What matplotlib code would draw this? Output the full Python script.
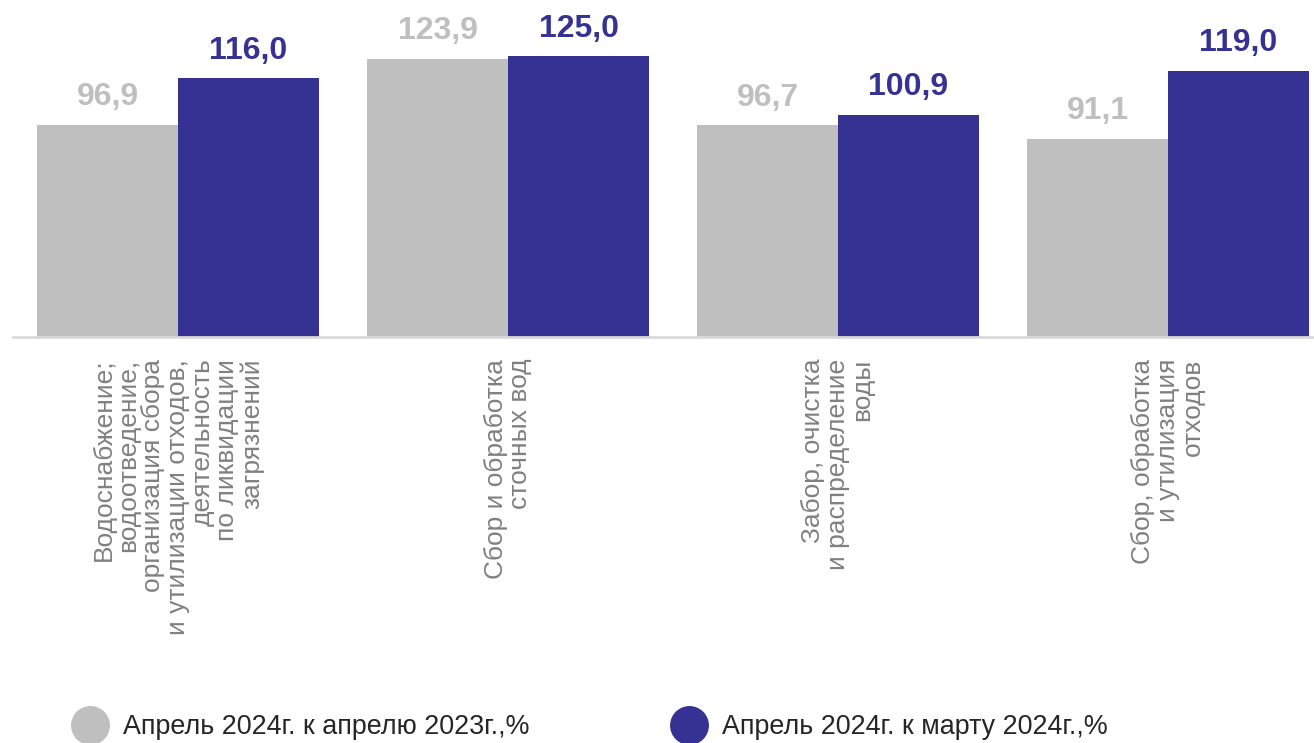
import matplotlib
matplotlib.use("Agg")
import matplotlib.pyplot as plt
from matplotlib.lines import Line2D
import numpy as np

plt.rcParams['font.family'] = ['Liberation Sans', 'DejaVu Sans']

categories = [
    "Водоснабжение;\nводоотведение,\nорганизация сбора\nи утилизации отходов,\nдеятельность\nпо ликвидации\nзагрязнений",
    "Сбор и обработка\nсточных вод",
    "Забор, очистка\nи распределение\nводы",
    "Сбор, обработка\nи утилизация\nотходов",
]
series_names = ["Апрель 2024г. к апрелю 2023г.,%", "Апрель 2024г. к марту 2024г.,%"]
yoy_values = [96.9, 123.9, 96.7, 91.1]
mom_values = [116.0, 125.0, 100.9, 119.0]
value_labels_yoy = ["96,9", "123,9", "96,7", "91,1"]
value_labels_mom = ["116,0", "125,0", "100,9", "119,0"]

gray = "#BFBFBF"
blue = "#363293"

W, H = 1314, 743
fig = plt.figure(figsize=(W / 100, H / 100), dpi=100)
left_px, right_px = 13, 1333
base_px, top_px = 336.5, 0
ax = fig.add_axes([left_px / W, (H - base_px) / H, (right_px - left_px) / W, (base_px - top_px) / H])
ax.set_xlim(-0.5, 3.5)
ax.set_ylim(10, 148)

x = np.arange(len(categories))
bw = 0.4273
ax.bar(x - bw / 2, yoy_values, width=bw, color=gray, zorder=2)
ax.bar(x + bw / 2, mom_values, width=bw, color=blue, zorder=2)

for xi, v, t in zip(x, yoy_values, value_labels_yoy):
    ax.annotate(t, (xi - bw / 2, v), xytext=(0, 14), textcoords="offset points",
                ha="center", va="baseline", fontsize=23, fontweight="bold", color=gray,
                annotation_clip=False)
for xi, v, t in zip(x, mom_values, value_labels_mom):
    ax.annotate(t, (xi + bw / 2, v), xytext=(0, 14), textcoords="offset points",
                ha="center", va="baseline", fontsize=23, fontweight="bold", color=blue,
                annotation_clip=False)

for s in ["top", "right", "left"]:
    ax.spines[s].set_visible(False)
ax.spines["bottom"].set_color("#D9D9D9")
ax.spines["bottom"].set_linewidth(2)
ax.spines["bottom"].set_zorder(3)
ax.set_yticks([])
ax.set_xticks(x)
ax.set_xticklabels(categories, rotation=90, ha="center", va="top", multialignment="right",
                   fontsize=19, color="#808080", linespacing=1.03)
ax.tick_params(axis="x", length=0, pad=16)

handles = [
    Line2D([], [], linestyle="none", marker="o", markersize=27, color=gray),
    Line2D([], [], linestyle="none", marker="o", markersize=27, color=blue),
]
fig.legend(handles, series_names, loc="center left", bbox_to_anchor=(68.4 / W, 1 - 727 / H),
           ncol=2, frameon=False, fontsize=19.4, labelcolor="#262626",
           handlelength=1.6, handletextpad=0.42, columnspacing=5.13, borderaxespad=0, borderpad=0)

fig.savefig("out.png", dpi=100)
